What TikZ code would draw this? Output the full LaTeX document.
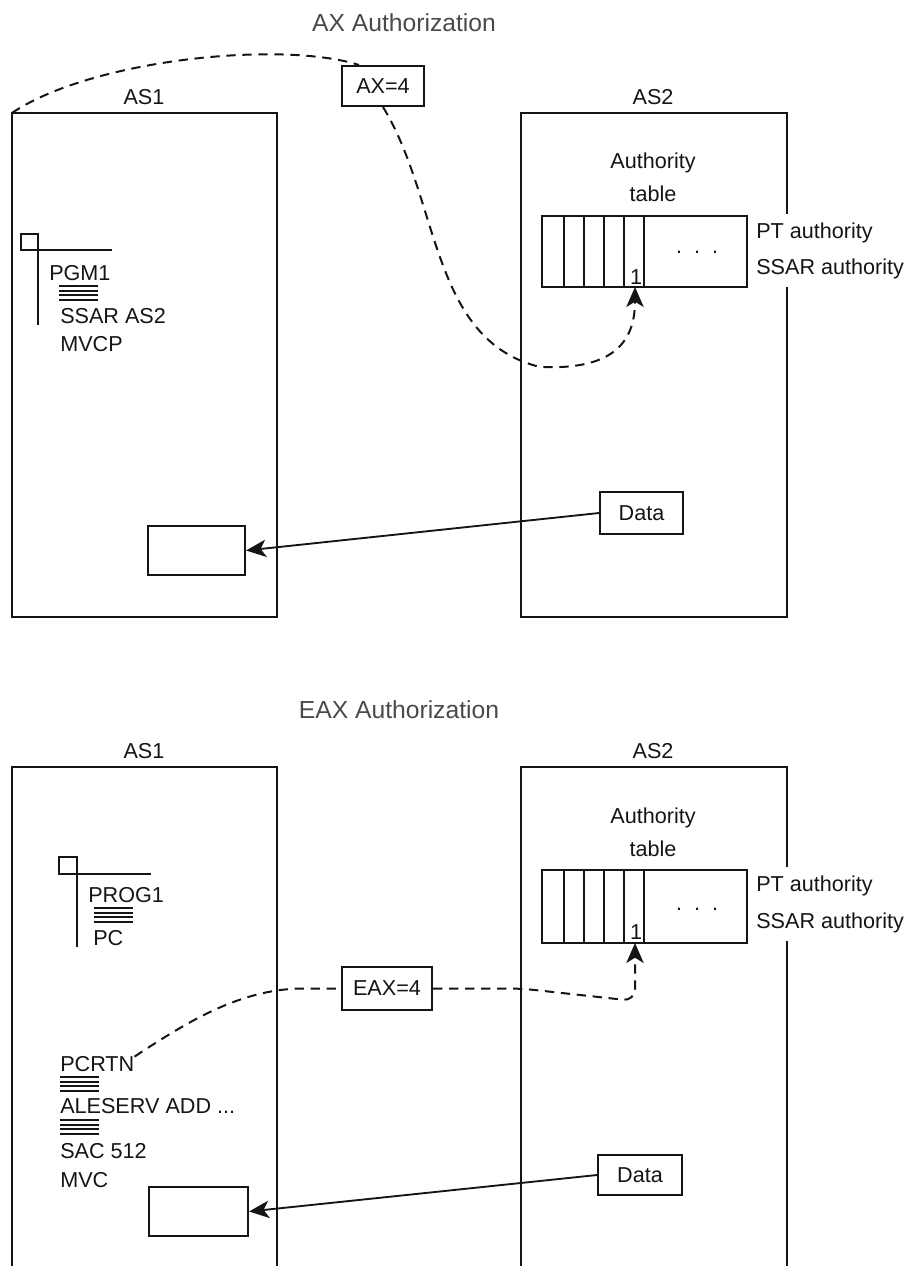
\documentclass[tikz,border=0pt]{standalone}
\usepackage{fontspec}
\setmainfont{Liberation Sans}
\usetikzlibrary{arrows.meta}
\definecolor{DiagInk}{HTML}{151515}
\definecolor{DiagTitle}{HTML}{4A4A4A}
\tikzset{
  every node/.style={font=\fontsize{16.2}{19}\selectfont, text=DiagInk},
  asbox/.style={draw=DiagInk, line width=1.55pt},
  tag/.style={draw=DiagInk, line width=1.55pt, fill=white, inner sep=0pt},
  title/.style={font=\fontsize{18.5}{22}\selectfont, text=DiagTitle},
  authlabel/.style={anchor=west, fill=white, inner sep=0pt, minimum height=28pt},
  code/.style={anchor=west, inner sep=0pt},
  rule/.style={draw=DiagInk, line width=1.35pt},
  link/.style={draw=DiagInk, line width=1.5pt, dash pattern=on 7pt off 5pt},
  pass/.style={link, -{Stealth[length=15pt,width=13pt,inset=4pt]}},
  move/.style={draw=DiagInk, line width=1.4pt, -{Stealth[length=15pt,width=13pt,inset=4pt]}},
}
\begin{document}
\begin{tikzpicture}[x=0.75pt,y=-0.75pt]
  \useasboundingbox (0,0) rectangle (909,1266);
  % AX authorization
  \node[title] (axtitle) at (404,23) {AX Authorization};
  \draw[asbox] (12,113) rectangle (277,617);
  \draw[asbox] (521,113) rectangle (787,617);
  \coordinate (as1a) at (12,113);
  \node (as1top) at (144,97) {AS1};
  \node (as2top) at (653,97) {AS2};
  \node (authtop) at (653,163) {Authority};
  \node (tabletop) at (653,193.5) {table};
  \draw[asbox] (542,216) rectangle (747,287);
  \foreach \x in {564,584,604,624,644}
    \draw[asbox] (\x,216) -- (\x,287);
  \node[anchor=base] (dotstop) at (697,253) {.\hspace{9pt}.\hspace{9pt}.};
  \node (onetop) at (636,277) {1};
  \coordinate (slot1a) at (635,287);
  \node[authlabel] (ptatop) at (756,232.5) {PT authority};
  \node[authlabel] (ssartop) at (756,268.5) {SSAR authority};
  % program in AS1
  \draw[asbox] (21,234) rectangle (38,250);
  \draw[asbox] (38,250) -- (112,250);
  \draw[asbox] (38,250) -- (38,325);
  \node[code] (pgm) at (49,273.5) {PGM1};
  \node[code] (ssar) at (60,316.5) {SSAR AS2};
  \node[code] (mvcp) at (60,344) {MVCP};
  % key passing
  \node[tag, minimum width=61.5pt, minimum height=30pt] (ax4) at (383,86) {AX=4};
  \draw[link] (as1a) .. controls (90,60) and (280,40) .. ([xshift=13.5pt]ax4.north west);
  \draw[pass] (ax4.south) .. controls (440,200) and (430,340) .. (540,367)
    .. controls (610,370) and (635,345) .. (slot1a);
  % data move
  \node[tag, minimum width=62pt, minimum height=31.5pt] (data1) at (641.5,513) {Data};
  \node[tag, minimum width=72.75pt, minimum height=36.75pt] (dest1) at (196.5,550.5) {};
  \draw[move] (data1.west) -- (dest1.east);

  % EAX authorization
  \node[title] (eaxtitle) at (399,710) {EAX Authorization};
  \draw[asbox] (12,1266) |- (277,767) -- (277,1266);
  \draw[asbox] (521,1266) |- (787,767) -- (787,1266);
  \node (as1bot) at (144,751.5) {AS1};
  \node (as2bot) at (653,751.5) {AS2};
  \node (authbot) at (653,818) {Authority};
  \node (tablebot) at (653,849) {table};
  \draw[asbox] (542,870) rectangle (747,943);
  \foreach \x in {564,584,604,624,644}
    \draw[asbox] (\x,870) -- (\x,943);
  \node[anchor=base] (dotsbot) at (697,910) {.\hspace{9pt}.\hspace{9pt}.};
  \node (onebot) at (636,932) {1};
  \coordinate (slot1b) at (635,943);
  \node[authlabel] (ptabot) at (756,886) {PT authority};
  \node[authlabel] (ssarbot) at (756,922.5) {SSAR authority};
  % program in AS1
  \draw[asbox] (59,857) rectangle (77,874);
  \draw[asbox] (77,874) -- (151,874);
  \draw[asbox] (77,874) -- (77,947);
  \node[code] (prog) at (88,895) {PROG1};
  \node[code] (pc) at (93,938) {PC};
  \node[code] (pcrtn) at (60,1064.5) {PCRTN};
  \node[code] (aleserv) at (60,1106.5) {ALESERV ADD ...};
  \node[code] (sac) at (60,1151) {SAC 512};
  \node[code] (mvc) at (60,1180) {MVC};
  % instruction bars
  \foreach \x/\y in {59/286, 94/908, 60/1077, 60/1120}
    \foreach \k in {0,...,3}
      \draw[rule] (\x,{\y+4.6*\k}) -- ++(39,0);
  % key passing
  \node[tag, minimum width=67.5pt, minimum height=32pt] (eax4) at (387,988.5) {EAX=4};
  \draw[link] (pcrtn.north east) .. controls (190,1020) and (240,990) .. (300,988.5) -- (eax4.west);
  \draw[pass, rounded corners=9pt] (eax4.east) -- (521,988.5) -- (635,1001) -- (slot1b);
  % data move
  \node[tag, minimum width=63pt, minimum height=30pt] (data2) at (640,1175) {Data};
  \node[tag, minimum width=74.25pt, minimum height=36.75pt] (dest2) at (198.5,1211.5) {};
  \draw[move] (data2.west) -- (dest2.east);
\end{tikzpicture}
\end{document}
